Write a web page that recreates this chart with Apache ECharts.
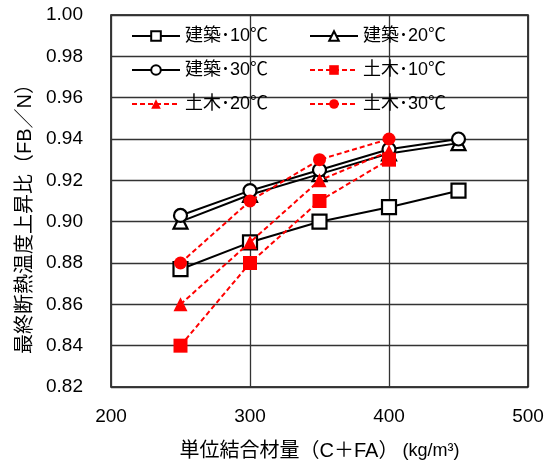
<!DOCTYPE html>
<html>
<head>
<meta charset="utf-8">
<script src="https://cdn.jsdelivr.net/npm/echarts@6/dist/echarts.min.js"></script>
<style>
html,body{margin:0;padding:0;background:#fff;}
#c{width:553px;height:466px;}
</style>
</head>
<body>
<div id="c"></div>
<script>
// x values (単位結合材量)
const xKenchiku = [250, 300, 350, 400, 450];
const xDoboku = [250, 300, 350, 400];
// series values
const kenchiku10 = [0.877, 0.890, 0.900, 0.907, 0.915];
const kenchiku20 = [0.900, 0.913, 0.923, 0.933, 0.938];
const kenchiku30 = [0.903, 0.915, 0.925, 0.935, 0.940];
const doboku10 = [0.840, 0.880, 0.910, 0.930];
const doboku20 = [0.860, 0.890, 0.920, 0.934];
const doboku30 = [0.880, 0.910, 0.930, 0.940];
const seriesNames = ['建築･10℃', '建築･20℃', '建築･30℃', '土木･10℃', '土木･20℃', '土木･30℃'];
// axis ticks
const xMin = 200, xMax = 500, xStep = 100;
const yMin = 0.82, yMax = 1.00, yStep = 0.02;

const FONT = "'Liberation Sans', 'Noto Sans CJK JP', sans-serif";

function pairs(xs, ys) { return xs.map((x, i) => [x, ys[i]]); }

function blackSeries(name, data, symbol, size) {
  return {
    name: name, type: 'line', data: data, symbol: symbol, symbolSize: size,
    lineStyle: { color: '#000', width: 2 },
    itemStyle: { color: '#fff', borderColor: '#000', borderWidth: 2.2 },
    z: 2
  };
}
function redSeries(name, data, symbol, size) {
  return {
    name: name, type: 'line', data: data, symbol: symbol, symbolSize: size,
    lineStyle: { color: '#ff0000', width: 2, type: [5, 3] },
    itemStyle: { color: '#ff0000', borderColor: '#ff0000', borderWidth: 0 },
    z: 3
  };
}

const chart = echarts.init(document.getElementById('c'), null, { renderer: 'canvas' });
const legendCommon = {
  orient: 'vertical', itemWidth: 48, itemHeight: 12, itemGap: 14,
  textStyle: { fontFamily: FONT, fontSize: 18, color: '#000', lineHeight: 20 },
  backgroundColor: 'transparent', padding: 0, selectedMode: false
};
chart.setOption({
  animation: false,
  backgroundColor: '#fff',
  grid: { left: 111, right: 25, top: 15, bottom: 77, show: true, borderColor: '#000', borderWidth: 1.5, backgroundColor: 'transparent' },
  legend: [
    Object.assign({}, legendCommon, { left: 131, top: 26, data: [seriesNames[0], seriesNames[2], seriesNames[4]] }),
    Object.assign({}, legendCommon, { left: 309, top: 26, data: [seriesNames[1], seriesNames[3], seriesNames[5]] })
  ],
  xAxis: {
    type: 'value', min: xMin, max: xMax, interval: xStep,
    axisLine: { show: false }, axisTick: { show: false },
    splitLine: { show: true, lineStyle: { color: '#333', width: 1.3 } },
    axisLabel: { fontFamily: FONT, fontSize: 19, color: '#000', margin: 20 },
    name: '単位結合材量（C＋FA）{s|(kg/m³)}',
    nameLocation: 'middle', nameGap: 54,
    nameTextStyle: { fontFamily: FONT, fontSize: 20, color: '#000',
      rich: { s: { fontFamily: FONT, fontSize: 18, color: '#000', padding: [0, 0, 0, 4] } } }
  },
  yAxis: {
    type: 'value', min: yMin, max: yMax, interval: yStep,
    axisLine: { show: false }, axisTick: { show: false },
    splitLine: { show: true, lineStyle: { color: '#333', width: 1.3 } },
    axisLabel: { fontFamily: FONT, fontSize: 19, color: '#000', margin: 28, formatter: v => v.toFixed(2) },
    name: '最終断熱温度上昇比（FB／N）',
    nameLocation: 'middle', nameRotate: 90, nameGap: 74,
    nameTextStyle: { fontFamily: FONT, fontSize: 20, color: '#000', padding: [0, 26, 0, 0] }
  },
  series: [
    blackSeries(seriesNames[0], pairs(xKenchiku, kenchiku10), 'rect', 14),
    blackSeries(seriesNames[1], pairs(xKenchiku, kenchiku20), 'triangle', 14),
    blackSeries(seriesNames[2], pairs(xKenchiku, kenchiku30), 'circle', 13),
    redSeries(seriesNames[3], pairs(xDoboku, doboku10), 'rect', 14),
    redSeries(seriesNames[4], pairs(xDoboku, doboku20), 'triangle', 14),
    redSeries(seriesNames[5], pairs(xDoboku, doboku30), 'circle', 13)
  ]
});
</script>
</body>
</html>
